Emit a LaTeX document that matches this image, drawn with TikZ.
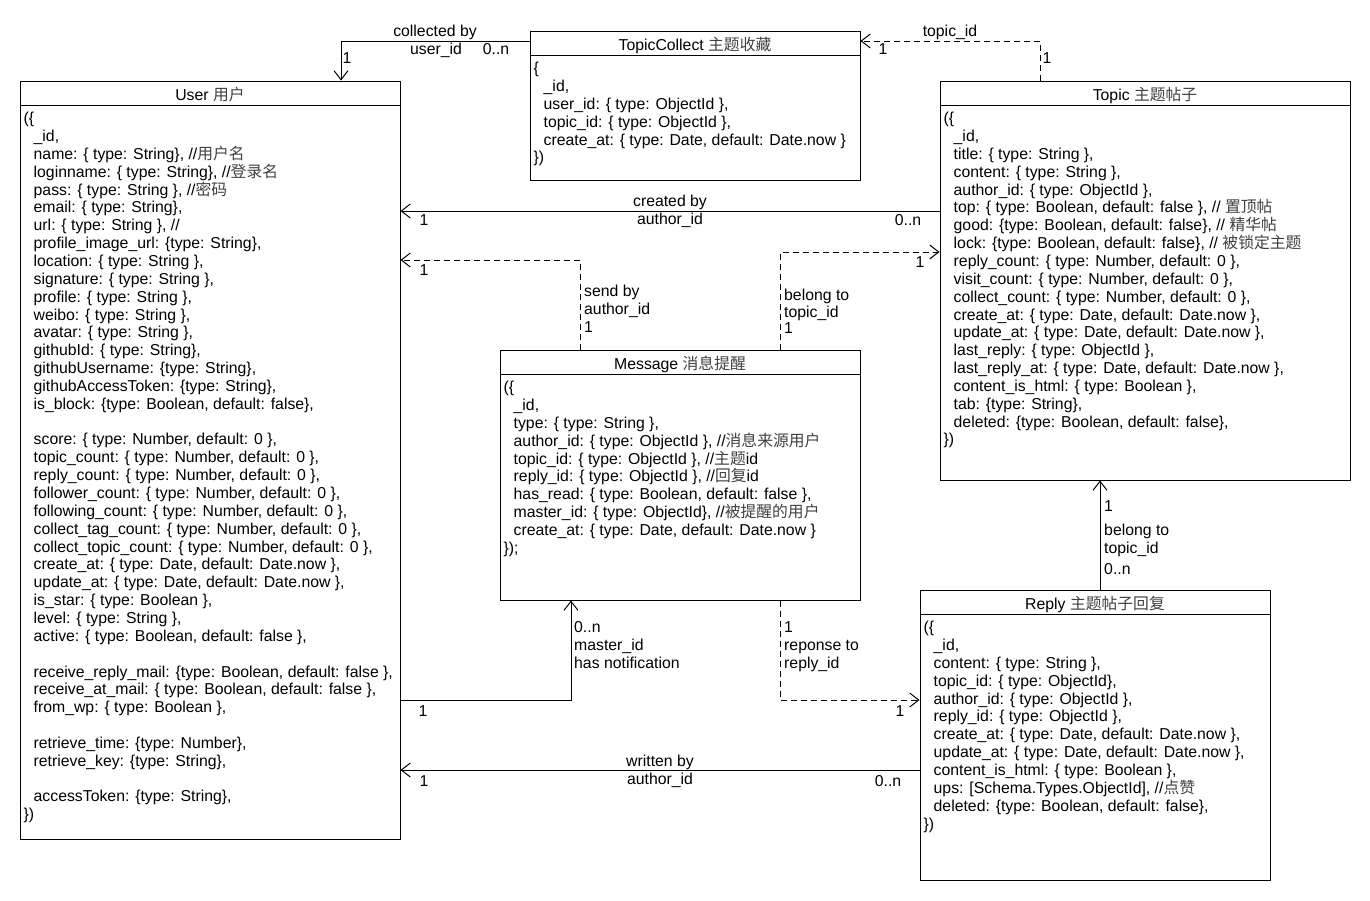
\documentclass[tikz,border=0pt]{standalone}
\usepackage{fontspec}
\setmainfont{Liberation Sans}
\newfontfamily\cjk{Noto Sans CJK SC}
\usetikzlibrary{arrows.meta}

\newcommand{\zh}[1]{{\cjk\color{black!75}#1}}

\tikzset{
  entity/.style={draw, line width=1pt, inner sep=0pt},
  fields/.style={anchor=north west, align=left, inner sep=0pt},
  lbl/.style={anchor=base, inner sep=0pt, yshift=-5.5pt},
  lblw/.style={anchor=base west, inner sep=0pt, yshift=-5.5pt},
  assoc/.style={line width=1pt, -{Straight Barb[length=9pt,width=14pt]}},
  depend/.style={assoc, dash pattern=on 6pt off 4pt},
}

\begin{document}
\begin{tikzpicture}[x=1pt, y=-1pt, font=\fontsize{15.8pt}{17.85pt}\selectfont]
\useasboundingbox (0,0) rectangle (1370,900);

% entities
\node[entity, minimum width=380pt, minimum height=758pt] (user) at (210,460) {};
\node[entity, minimum width=330pt, minimum height=149pt] (collect) at (695,105.5) {};
\node[entity, minimum width=410pt, minimum height=399pt] (topic) at (1145,280.5) {};
\node[entity, minimum width=360pt, minimum height=250pt] (message) at (680,475) {};
\node[entity, minimum width=350pt, minimum height=290pt] (reply) at (1095,735) {};

\foreach \n in {user,collect,topic,message,reply}
  \draw[line width=1pt] ([yshift=-25pt]\n.north west) -- ([yshift=-25pt]\n.north east);

% titles
\node[lbl] (user-title) at ([yshift=-14.5pt]user.north) {User \zh{用户}};
\node[lbl] (collect-title) at ([yshift=-14.5pt]collect.north) {TopicCollect \zh{主题收藏}};
\node[lbl] (topic-title) at ([yshift=-14.5pt]topic.north) {Topic \zh{主题帖子}};
\node[lbl] (message-title) at ([yshift=-14.5pt]message.north) {Message \zh{消息提醒}};
\node[lbl] (reply-title) at ([yshift=-14.5pt]reply.north) {Reply \zh{主题帖子回复}};

% fields
\node[fields] (user-body) at ([xshift=14pt, yshift=-31.5pt]user.north west) {
\hspace*{-10pt}(\{\\
\_id,\\
name: \{ type: String\}, //\zh{用户名}\\
loginname: \{ type: String\}, //\zh{登录名}\\
pass: \{ type: String \}, //\zh{密码}\\
email: \{ type: String\},\\
url: \{ type: String \}, //\\
profile\_image\_url: \{type: String\},\\
location: \{ type: String \},\\
signature: \{ type: String \},\\
profile: \{ type: String \},\\
weibo: \{ type: String \},\\
avatar: \{ type: String \},\\
githubId: \{ type: String\},\\
githubUsername: \{type: String\},\\
githubAccessToken: \{type: String\},\\
is\_block: \{type: Boolean, default: false\},\\[17.85pt]
score: \{ type: Number, default: 0 \},\\
topic\_count: \{ type: Number, default: 0 \},\\
reply\_count: \{ type: Number, default: 0 \},\\
follower\_count: \{ type: Number, default: 0 \},\\
following\_count: \{ type: Number, default: 0 \},\\
collect\_tag\_count: \{ type: Number, default: 0 \},\\
collect\_topic\_count: \{ type: Number, default: 0 \},\\
create\_at: \{ type: Date, default: Date.now \},\\
update\_at: \{ type: Date, default: Date.now \},\\
is\_star: \{ type: Boolean \},\\
level: \{ type: String \},\\
active: \{ type: Boolean, default: false \},\\[17.85pt]
receive\_reply\_mail: \{type: Boolean, default: false \},\\
receive\_at\_mail: \{ type: Boolean, default: false \},\\
from\_wp: \{ type: Boolean \},\\[17.85pt]
retrieve\_time: \{type: Number\},\\
retrieve\_key: \{type: String\},\\[17.85pt]
accessToken: \{type: String\},\\
\hspace*{-10pt}\})};

\node[fields] (collect-body) at ([xshift=14pt, yshift=-31.5pt]collect.north west) {
\hspace*{-10pt}\{\\
\_id,\\
user\_id: \{ type: ObjectId \},\\
topic\_id: \{ type: ObjectId \},\\
create\_at: \{ type: Date, default: Date.now \}\\
\hspace*{-10pt}\})};

\node[fields] (topic-body) at ([xshift=14pt, yshift=-31.5pt]topic.north west) {
\hspace*{-10pt}(\{\\
\_id,\\
title: \{ type: String \},\\
content: \{ type: String \},\\
author\_id: \{ type: ObjectId \},\\
top: \{ type: Boolean, default: false \}, // \zh{置顶帖}\\
good: \{type: Boolean, default: false\}, // \zh{精华帖}\\
lock: \{type: Boolean, default: false\}, // \zh{被锁定主题}\\
reply\_count: \{ type: Number, default: 0 \},\\
visit\_count: \{ type: Number, default: 0 \},\\
collect\_count: \{ type: Number, default: 0 \},\\
create\_at: \{ type: Date, default: Date.now \},\\
update\_at: \{ type: Date, default: Date.now \},\\
last\_reply: \{ type: ObjectId \},\\
last\_reply\_at: \{ type: Date, default: Date.now \},\\
content\_is\_html: \{ type: Boolean \},\\
tab: \{type: String\},\\
deleted: \{type: Boolean, default: false\},\\
\hspace*{-10pt}\})};

\node[fields] (message-body) at ([xshift=14pt, yshift=-31.5pt]message.north west) {
\hspace*{-10pt}(\{\\
\_id,\\
type: \{ type: String \},\\
author\_id: \{ type: ObjectId \}, //\zh{消息来源用户}\\
topic\_id: \{ type: ObjectId \}, //\zh{主题}id\\
reply\_id: \{ type: ObjectId \}, //\zh{回复}id\\
has\_read: \{ type: Boolean, default: false \},\\
master\_id: \{ type: ObjectId\}, //\zh{被提醒的用户}\\
create\_at: \{ type: Date, default: Date.now \}\\
\hspace*{-10pt}\});};

\node[fields] (reply-body) at ([xshift=14pt, yshift=-31.5pt]reply.north west) {
\hspace*{-10pt}(\{\\
\_id,\\
content: \{ type: String \},\\
topic\_id: \{ type: ObjectId\},\\
author\_id: \{ type: ObjectId \},\\
reply\_id: \{ type: ObjectId \},\\
create\_at: \{ type: Date, default: Date.now \},\\
update\_at: \{ type: Date, default: Date.now \},\\
content\_is\_html: \{ type: Boolean \},\\
ups: [Schema.Types.ObjectId], //\zh{点赞}\\
deleted: \{type: Boolean, default: false\},\\
\hspace*{-10pt}\})};

% connectors
\draw[assoc] (collect.west |- 0,41) -| (user.north -| 341,0);
\node[lbl] (cb-a) at (435,31) {collected by};
\node[lbl] (cb-b) at (436,49) {user\_id};
\node[lbl] (cb-n) at (496,49) {0..n};
\node[lbl] (cb-1) at (347,58) {1};

\draw[depend] (topic.north -| 1040,0) |- (collect.east |- 0,41);
\node[lbl] (tc-a) at (950,31) {topic\_id};
\node[lbl] (tc-1) at (883,49) {1};
\node[lbl] (tc-2) at (1047,58) {1};

\draw[assoc] (topic.west |- 0,211) -- (user.east |- 0,211);
\node[lbl] (cr-a) at (670,201) {created by};
\node[lbl] (cr-b) at (670,219) {author\_id};
\node[lbl] (cr-1) at (424,220) {1};
\node[lbl] (cr-n) at (908,220) {0..n};

\draw[depend] (message.north -| 580,0) |- (user.east |- 0,260);
\node[lbl] (sb-1) at (424,270) {1};
\node[lblw] (sb-a) at (584,291) {send by};
\node[lblw] (sb-b) at (584,309) {author\_id};
\node[lblw] (sb-c) at (584,327) {1};

\draw[depend] (message.north -| 780,0) |- (topic.west |- 0,252);
\node[lbl] (bt-1) at (920,262) {1};
\node[lblw] (bt-a) at (784,295) {belong to};
\node[lblw] (bt-b) at (784,312) {topic\_id};
\node[lblw] (bt-c) at (784,328) {1};

\draw[assoc] (user.east |- 0,700) -| (message.south -| 571,0);
\node[lbl] (ms-1) at (423,711) {1};
\node[lblw] (ms-a) at (574,627) {0..n};
\node[lblw] (ms-b) at (574,645) {master\_id};
\node[lblw] (ms-c) at (574,663) {has notification};

\draw[depend] (message.south -| 780,0) |- (reply.west |- 0,700);
\node[lbl] (rp-1) at (900,711) {1};
\node[lblw] (rp-a) at (784,627) {1};
\node[lblw] (rp-b) at (784,645) {reponse to};
\node[lblw] (rp-c) at (784,663) {reply\_id};

\draw[assoc] (reply.west |- 0,770) -- (user.east |- 0,770);
\node[lbl] (wb-a) at (660,761) {written by};
\node[lbl] (wb-b) at (660,779) {author\_id};
\node[lbl] (wb-1) at (424,781) {1};
\node[lbl] (wb-n) at (888,781) {0..n};

\draw[assoc] (reply.north -| 1100,0) -- (topic.south -| 1100,0);
\node[lblw] (rt-1) at (1104,506) {1};
\node[lblw] (rt-a) at (1104,530) {belong to};
\node[lblw] (rt-b) at (1104,548) {topic\_id};
\node[lblw] (rt-n) at (1104,569) {0..n};
\end{tikzpicture}
\end{document}
